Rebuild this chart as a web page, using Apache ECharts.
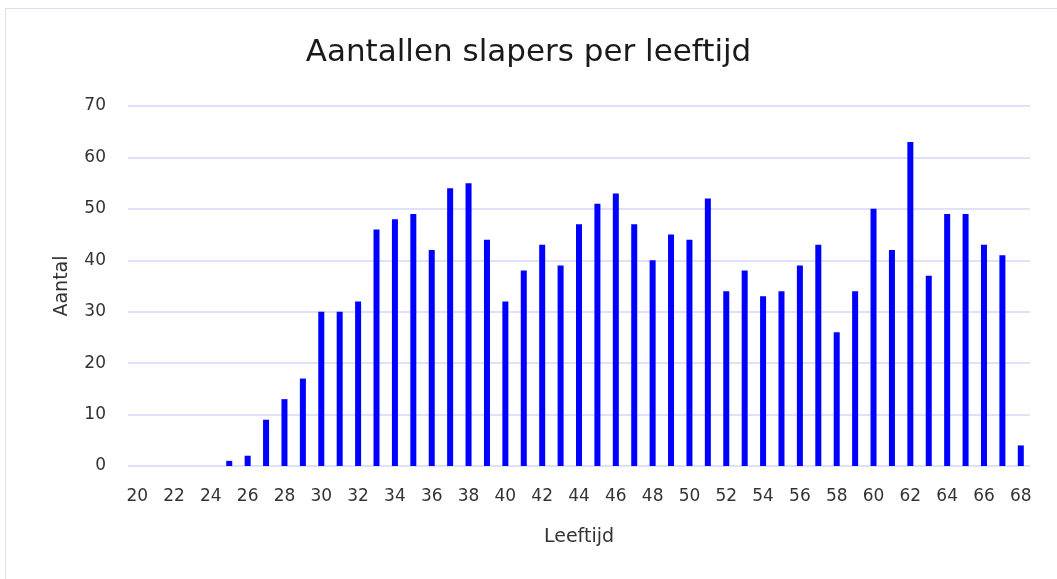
<!DOCTYPE html>
<html>
<head>
<meta charset="utf-8">
<script src="https://cdn.jsdelivr.net/npm/echarts@6/dist/echarts.min.js"></script>
<style>
  html, body { margin: 0; padding: 0; background: #fff; }
  #frame { position: absolute; left: 5px; top: 8px; width: 1052px; height: 571px;
           border-top: 1px solid #dcdcfb; border-left: 1px solid #dcdcfb; }
  #main { position: absolute; left: 0; top: 0; width: 1057px; height: 579px; }
</style>
</head>
<body>
<div id="frame"></div>
<div id="main"></div>
<script>
// leeftijden 20 t/m 68
var leeftijden = ['20','21','22','23','24','25','26','27','28','29',
                  '30','31','32','33','34','35','36','37','38','39',
                  '40','41','42','43','44','45','46','47','48','49',
                  '50','51','52','53','54','55','56','57','58','59',
                  '60','61','62','63','64','65','66','67','68'];
// aantal slapers per leeftijd
var aantallen = [0, 0, 0, 0, 0, 1, 2, 9, 13, 17,
                 30, 30, 32, 46, 48, 49, 42, 54, 55, 44,
                 32, 38, 43, 39, 47, 51, 53, 47, 40, 45,
                 44, 52, 34, 38, 33, 34, 39, 43, 26, 34,
                 50, 42, 63, 37, 49, 49, 43, 41, 4];
var yTicks = [0, 10, 20, 30, 40, 50, 60, 70];

var myChart = echarts.init(document.getElementById('main'));
var font = '"DejaVu Sans", sans-serif';
var option = {
    animation: false,
    title: {
        text: 'Aantallen slapers per leeftijd',
        left: 'center',
        top: 32,
        textStyle: { fontFamily: font, fontSize: 31, fontWeight: 'normal', color: '#1a1a1a' }
    },
    grid: { left: 128, right: 27, top: 106, bottom: 113 },
    xAxis: {
        type: 'category',
        data: leeftijden,
        name: 'Leeftijd',
        nameLocation: 'middle',
        nameGap: 62,
        nameTextStyle: { fontFamily: font, fontSize: 19, color: '#333' },
        axisLine: { show: false },
        axisTick: { show: false },
        axisLabel: { interval: 1, margin: 22, fontFamily: font, fontSize: 17, color: '#333' }
    },
    yAxis: {
        type: 'value',
        min: yTicks[0],
        max: yTicks[yTicks.length - 1],
        interval: 10,
        name: 'Aantal',
        nameLocation: 'middle',
        nameGap: 56,
        nameTextStyle: { fontFamily: font, fontSize: 19, color: '#333' },
        axisLine: { show: false },
        axisTick: { show: false },
        axisLabel: { margin: 22, fontFamily: font, fontSize: 17, color: '#333' },
        splitLine: { lineStyle: { color: '#d6d6fa', width: 1.5 } }
    },
    series: [{
        name: 'Aantal',
        type: 'bar',
        data: aantallen,
        barWidth: 6,
        itemStyle: { color: '#0000ff' }
    }]
};
myChart.setOption(option);
</script>
</body>
</html>
